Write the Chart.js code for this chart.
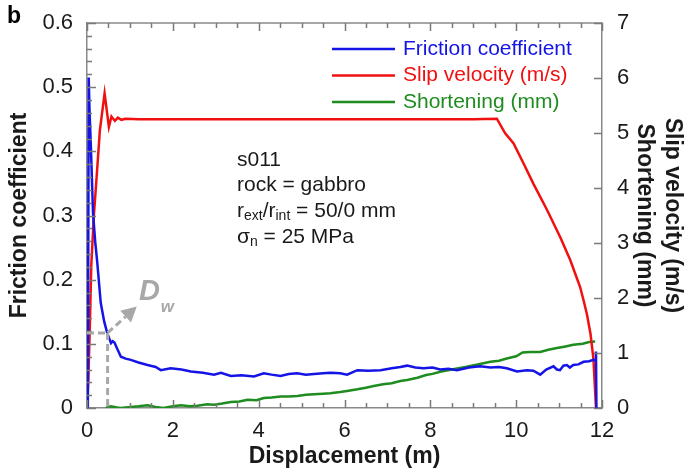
<!DOCTYPE html>
<html>
<head>
<meta charset="utf-8">
<script src="https://cdn.jsdelivr.net/npm/chart.js@4.4.1/dist/chart.umd.min.js"></script>
<style>
  html, body { margin: 0; padding: 0; background: #fff; }
  #wrap { width: 686px; height: 474px; }
</style>
</head>
<body>
<div id="wrap"><canvas id="chart" width="686" height="474"></canvas></div>
<script>
// displacement (m) vs friction coefficient (left axis)
var dispFriction = [0.02, 0.04, 0.06, 0.09, 0.14, 0.19, 0.24, 0.32, 0.40, 0.47, 0.56, 0.60, 0.64, 0.72, 0.79, 0.90, 1.02, 1.20, 1.41, 1.60, 1.72, 1.95, 2.20, 2.42, 2.70, 2.96, 3.12, 3.35, 3.60, 3.89, 4.12, 4.30, 4.51, 4.70, 4.90, 5.10, 5.29, 5.50, 5.67, 5.90, 6.06, 6.30, 6.55, 6.84, 7.10, 7.30, 7.46, 7.65, 7.84, 8.05, 8.23, 8.42, 8.62, 8.90, 9.16, 9.40, 9.60, 9.78, 10.02, 10.25, 10.40, 10.56, 10.70, 10.87, 10.95, 11.02, 11.10, 11.18, 11.25, 11.33, 11.45, 11.57, 11.70, 11.80, 11.84, 11.86, 11.87];
var friction = [0, 0.515, 0.46, 0.408, 0.304, 0.26, 0.226, 0.164, 0.135, 0.117, 0.101, 0.104, 0.102, 0.09, 0.080, 0.077, 0.075, 0.071, 0.067, 0.064, 0.059, 0.062, 0.060, 0.057, 0.055, 0.052, 0.055, 0.050, 0.051, 0.049, 0.054, 0.052, 0.050, 0.053, 0.054, 0.052, 0.053, 0.054, 0.055, 0.054, 0.052, 0.059, 0.058, 0.059, 0.062, 0.064, 0.066, 0.063, 0.062, 0.063, 0.060, 0.061, 0.059, 0.063, 0.065, 0.063, 0.064, 0.062, 0.057, 0.059, 0.058, 0.052, 0.060, 0.065, 0.060, 0.059, 0.066, 0.067, 0.063, 0.067, 0.068, 0.072, 0.073, 0.075, 0.074, 0.088, 0];

// slip velocity (m/s), right axis
var dispSlip = [0, 0.03, 0.06, 0.10, 0.16, 0.22, 0.30, 0.41, 0.51, 0.57, 0.65, 0.72, 0.80, 0.90, 1.20, 3.00, 6.00, 9.00, 9.55, 9.74, 9.94, 10.17, 10.40, 10.72, 11.03, 11.26, 11.49, 11.57, 11.65, 11.73, 11.80, 11.86];
var slipVelocity = [0, 0.5, 1.3, 2.6, 3.5, 4.15, 5.05, 5.72, 5.11, 5.30, 5.22, 5.28, 5.24, 5.26, 5.25, 5.25, 5.25, 5.25, 5.26, 5.0, 4.81, 4.45, 4.08, 3.6, 3.1, 2.69, 2.2, 1.96, 1.7, 1.36, 0.9, 0];

// shortening (mm), right axis
var dispShort = [0.44, 0.56, 0.70, 0.79, 1.02, 1.20, 1.41, 1.60, 1.78, 2.00, 2.19, 2.40, 2.57, 2.80, 2.96, 3.15, 3.35, 3.55, 3.74, 3.95, 4.12, 4.30, 4.51, 4.70, 4.90, 5.10, 5.29, 5.50, 5.67, 5.90, 6.06, 6.30, 6.50, 6.68, 6.90, 7.10, 7.30, 7.46, 7.70, 7.90, 8.05, 8.23, 8.50, 8.85, 9.10, 9.40, 9.60, 9.78, 10.00, 10.15, 10.33, 10.56, 10.75, 10.95, 11.15, 11.33, 11.55, 11.70, 11.84];
var shortening = [0, 0.03, 0.01, 0, 0.02, 0.03, 0.05, 0.02, 0, 0.03, 0.05, 0.03, 0.04, 0.07, 0.06, 0.08, 0.11, 0.12, 0.15, 0.14, 0.18, 0.19, 0.21, 0.21, 0.22, 0.24, 0.25, 0.26, 0.27, 0.29, 0.31, 0.34, 0.37, 0.40, 0.43, 0.45, 0.49, 0.51, 0.55, 0.60, 0.62, 0.66, 0.70, 0.75, 0.79, 0.84, 0.86, 0.90, 0.94, 1.01, 1.02, 1.02, 1.06, 1.09, 1.12, 1.15, 1.17, 1.20, 1.21];

var seriesNames = ["Friction coefficient", "Slip velocity (m/s)", "Shortening (mm)"];
var seriesColors = ["#1414e6", "#f01010", "#1f8c1f"];
var infoLines = ["s011", "rock = gabbro"];

var FONT = "'Liberation Sans', Arial, Helvetica, sans-serif";
var AXIS_GRAY = "#8a8a8a";

function toPoints(xs, ys) {
  return xs.map((x, i) => ({ x: x, y: ys[i] }));
}

// frame, inward ticks, legend, notes and the Dw marker
var decor = {
  id: "decor",
  afterDatasetsDraw(chart) {
    var ctx = chart.ctx;
    var ca = chart.chartArea;
    var xs = chart.scales.x, ys = chart.scales.y, y2 = chart.scales.y2;
    ctx.save();
    ctx.setLineDash([]);

    // top frame line
    ctx.strokeStyle = AXIS_GRAY;
    ctx.lineWidth = 1.5;
    ctx.beginPath();
    ctx.moveTo(ca.left, ca.top);
    ctx.lineTo(ca.right, ca.top);
    ctx.stroke();

    // ticks (inward)
    ctx.strokeStyle = "#7a7a7a";
    ctx.lineWidth = 1.5;
    ctx.beginPath();
    for (var i = 0; i <= 24; i++) {
      var px = Math.round(xs.getPixelForValue(i * 0.5)) + 0.5;
      var len = i % 4 === 0 ? 8 : 5;
      ctx.moveTo(px, ca.bottom); ctx.lineTo(px, ca.bottom - len);
      ctx.moveTo(px, ca.top); ctx.lineTo(px, ca.top + len);
    }
    for (var j = 0; j <= 30; j++) {
      var py = Math.round(ys.getPixelForValue(j * 0.02)) + 0.5;
      var l2 = j % 5 === 0 ? 9 : 5;
      ctx.moveTo(ca.left, py); ctx.lineTo(ca.left + l2, py);
    }
    for (var k = 0; k <= 7; k++) {
      var py2 = Math.round(y2.getPixelForValue(k)) + 0.5;
      ctx.moveTo(ca.right, py2); ctx.lineTo(ca.right - 8, py2);
    }
    ctx.stroke();

    // legend
    ctx.textBaseline = "middle";
    ctx.textAlign = "left";
    ctx.font = "21px " + FONT;
    for (var s = 0; s < seriesNames.length; s++) {
      var ly = ca.top + 26 + s * 26.5;
      ctx.strokeStyle = seriesColors[s];
      ctx.lineWidth = 2.5;
      ctx.beginPath();
      ctx.moveTo(ca.left + 245, ly);
      ctx.lineTo(ca.left + 308, ly);
      ctx.stroke();
      ctx.fillStyle = seriesColors[s];
      ctx.fillText(seriesNames[s], ca.left + 316, ly);
    }

    // notes
    ctx.fillStyle = "#1a1a1a";
    var tx = ca.left + 150;
    ctx.font = "21px " + FONT;
    ctx.textBaseline = "alphabetic";
    ctx.fillText(infoLines[0], tx, ca.top + 143);
    ctx.fillText(infoLines[1], tx, ca.top + 168);
    var bx = tx, by = ca.top + 194;
    function part(txt, sub) {
      ctx.font = (sub ? "14px " : "21px ") + FONT;
      ctx.fillText(txt, bx, by + (sub ? 3 : 0));
      bx += ctx.measureText(txt).width;
    }
    part("r"); part("ext", true); part("/r"); part("int", true); part(" = 50/0 mm");
    bx = tx; by = ca.top + 220;
    part("\u03c3"); part("n", true); part(" = 25 MPa");

    // Dw marker
    var gx = xs.getPixelForValue(0.48), gy = ys.getPixelForValue(0.117);
    ctx.strokeStyle = "#a8a8a8";
    ctx.fillStyle = "#a8a8a8";
    ctx.lineWidth = 3;
    ctx.setLineDash([7, 4]);
    ctx.beginPath();
    ctx.moveTo(ca.left, gy); ctx.lineTo(gx, gy);
    ctx.moveTo(gx, gy); ctx.lineTo(gx, ca.bottom);
    var tipX = xs.getPixelForValue(1.16), tipY = ys.getPixelForValue(0.158);
    var ang = Math.atan2(tipY - gy, tipX - gx);
    var hl = 15;
    var bxh = tipX - hl * Math.cos(ang), byh = tipY - hl * Math.sin(ang);
    ctx.moveTo(gx, gy); ctx.lineTo(bxh, byh);
    ctx.stroke();
    ctx.setLineDash([]);
    ctx.beginPath();
    ctx.moveTo(tipX, tipY);
    ctx.lineTo(bxh + 8 * Math.sin(ang), byh - 8 * Math.cos(ang));
    ctx.lineTo(bxh - 8 * Math.sin(ang), byh + 8 * Math.cos(ang));
    ctx.closePath();
    ctx.fill();
    ctx.font = "italic bold 29px " + FONT;
    ctx.fillText("D", xs.getPixelForValue(1.21), ys.getPixelForValue(0.168));
    ctx.font = "italic bold 17px " + FONT;
    ctx.fillText("w", xs.getPixelForValue(1.72), ys.getPixelForValue(0.149));

    // panel letter
    ctx.fillStyle = "#000";
    ctx.font = "bold 23px " + FONT;
    ctx.fillText("b", 7, 23);
    ctx.restore();
  }
};

var tickFont = { family: FONT, size: 22 };
var titleFont = { family: FONT, size: 23, weight: "bold" };

new Chart(document.getElementById("chart"), {
  type: "line",
  data: {
    datasets: [
      { label: seriesNames[0], data: toPoints(dispFriction, friction), yAxisID: "y", borderColor: seriesColors[0], borderWidth: 2.5 },
      { label: seriesNames[1], data: toPoints(dispSlip, slipVelocity), yAxisID: "y2", borderColor: seriesColors[1], borderWidth: 2.5 },
      { label: seriesNames[2], data: toPoints(dispShort, shortening), yAxisID: "y2", borderColor: seriesColors[2], borderWidth: 2.5 },
    ],
  },
  options: {
    responsive: false,
    animation: false,
    parsing: false,
    elements: { point: { radius: 0 }, line: { tension: 0 } },
    layout: { padding: { top: 23, left: 0, right: 0, bottom: 0 } },
    plugins: { legend: { display: false }, tooltip: { enabled: false } },
    scales: {
      x: {
        type: "linear", min: 0, max: 12,
        grid: { display: false },
        border: { color: AXIS_GRAY, width: 1.5 },
        ticks: { stepSize: 2, font: tickFont, color: "#1a1a1a", padding: 2, maxRotation: 0 },
        title: { display: true, text: "Displacement (m)", font: titleFont, color: "#1a1a1a", padding: { top: 0, bottom: 4 } },
        afterFit(scale) { scale.height = 66; },
      },
      y: {
        position: "left", min: 0, max: 0.6,
        grid: { display: false },
        border: { color: AXIS_GRAY, width: 1.5 },
        ticks: { stepSize: 0.1, font: tickFont, color: "#1a1a1a", padding: 6 },
        title: { display: true, text: "Friction coefficient", font: titleFont, color: "#1a1a1a", padding: { top: 6, bottom: 0 } },
        afterFit(scale) { scale.width = 87; },
      },
      y2: {
        position: "right", min: 0, max: 7,
        grid: { display: false },
        border: { color: AXIS_GRAY, width: 1.5 },
        ticks: { stepSize: 1, font: tickFont, color: "#1a1a1a", padding: 7 },
        title: { display: true, text: ["Slip velocity (m/s)", "Shortening (mm)"], font: titleFont, color: "#1a1a1a", padding: { top: 0, bottom: 2 } },
        afterFit(scale) { scale.width = 84; },
      },
    },
  },
  plugins: [decor],
});
</script>
</body>
</html>
